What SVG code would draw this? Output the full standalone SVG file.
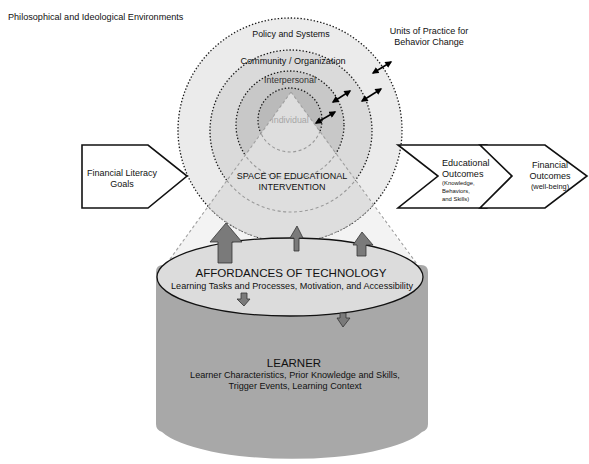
<svg xmlns="http://www.w3.org/2000/svg" width="589" height="464" viewBox="0 0 589 464">
  <style>
    .t { font-family: "Liberation Sans", Arial, sans-serif; fill: #111; }
    .ring-line { fill: none; stroke: #1a1a1a; stroke-width: 1.3; stroke-dasharray: 1.4 1.9; }
    .ring-soft { fill: none; stroke: #9a9a9a; stroke-width: 1.1; stroke-dasharray: 3 2.5; }
    .shape { fill: #fff; stroke: #111; stroke-width: 1.6; stroke-linejoin: miter; }
    .block { fill: #7a7a7a; stroke: #333; stroke-width: 0.8; }
    .dbl { stroke: #000; stroke-width: 1.5; fill: none; marker-start: url(#head); marker-end: url(#head); }
  </style>
  <defs>
    <marker id="head" viewBox="0 0 10 10" refX="8" refY="5" markerWidth="5" markerHeight="4.6" orient="auto-start-reverse" markerUnits="strokeWidth">
      <path d="M0,0 L10,5 L0,10 z" fill="#000"/>
    </marker>
    <clipPath id="outerClip"><circle cx="290" cy="130" r="112"/></clipPath>
    <clipPath id="coneClip"><polygon points="291,92 151,285 431,285"/></clipPath>
  </defs>

  <text class="t" x="8" y="20" font-size="9.1">Philosophical and Ideological Environments</text>

  <!-- cone of educational intervention, outside the rings -->
  <polygon points="291,92 157,277 425,277" fill="#f3f3f3"/>

  <!-- nested levels -->
  <g id="policy-systems">
    <circle cx="290" cy="130" r="112" fill="#ebebeb"/>
  </g>
  <g id="community">
    <circle cx="291" cy="131" r="81" fill="#dadada"/>
  </g>
  <g id="interpersonal">
    <circle cx="290" cy="125" r="54" fill="#c8c8c8"/>
  </g>
  <g id="individual">
    <circle cx="290" cy="120" r="32" fill="#bababa"/>
  </g>
  <g id="ring-outlines">
    <circle class="ring-line" cx="290" cy="130" r="112"/>
    <circle class="ring-line" cx="291" cy="131" r="81"/>
    <circle class="ring-line" cx="290" cy="125" r="54"/>
    <circle class="ring-line" cx="290" cy="120" r="32"/>
  </g>

  <!-- space of educational intervention inside the rings -->
  <g id="intervention-space">
    <polygon points="291,92 157,277 425,277" fill="#dedede" clip-path="url(#outerClip)"/>
    <g clip-path="url(#coneClip)">
      <circle class="ring-soft" cx="290" cy="130" r="112"/>
      <circle class="ring-soft" cx="291" cy="131" r="81"/>
      <circle class="ring-soft" cx="290" cy="125" r="54"/>
      <circle class="ring-soft" cx="290" cy="120" r="32"/>
    </g>
    <line x1="291" y1="92" x2="157" y2="277" stroke="#a0a0a0" stroke-width="1.1" stroke-dasharray="3 2.5"/>
    <line x1="291" y1="92" x2="425" y2="275" stroke="#a0a0a0" stroke-width="1.1" stroke-dasharray="3 2.5"/>
    <text class="t" x="292" y="179" font-size="9" text-anchor="middle">SPACE OF EDUCATIONAL</text>
    <text class="t" x="292" y="190" font-size="9" text-anchor="middle">INTERVENTION</text>
  </g>

  <!-- level labels -->
  <text class="t" x="291" y="37" font-size="8.9" text-anchor="middle">Policy and Systems</text>
  <text class="t" x="293" y="64" font-size="9.1" text-anchor="middle">Community / Organization</text>
  <text class="t" x="290" y="83" font-size="8.9" text-anchor="middle" style="fill:#333">Interpersonal</text>
  <text class="t" x="290" y="123" font-size="8.9" text-anchor="middle" style="fill:#a6a6a6">Individual</text>

  <g id="units-of-practice">
    <text class="t" x="429" y="34" font-size="9" text-anchor="middle">Units of Practice for</text>
    <text class="t" x="429" y="45" font-size="9" text-anchor="middle">Behavior Change</text>
  </g>

  <!-- two-way links between levels -->
  <g id="connectors">
    <line class="dbl" x1="316" y1="123" x2="335" y2="112"/>
    <line class="dbl" x1="333" y1="102" x2="350" y2="91"/>
    <line class="dbl" x1="362" y1="101" x2="381" y2="89"/>
    <line class="dbl" x1="373" y1="73" x2="391" y2="62"/>
  </g>

  <g id="financial-literacy-goals">
    <polygon class="shape" points="82,145 148,145 187,176 148,208 82,208"/>
    <text class="t" x="122" y="176" font-size="9" text-anchor="middle">Financial Literacy</text>
    <text class="t" x="122" y="187" font-size="9" text-anchor="middle">Goals</text>
  </g>

  <g id="educational-outcomes">
    <polygon points="398,145 487,145 512,176 487,208 398,208 438,176" fill="#fff"/>
  </g>
  <g id="financial-outcomes">
    <polygon points="480,145 545,145 587,176 545,208 480,208 512,176" fill="#fff"/>
  </g>
  <polygon class="shape" points="398,145 487,145 512,176 487,208 398,208 438,176" fill="none"/>
  <polygon class="shape" points="480,145 545,145 587,176 545,208 480,208 512,176" fill="none"/>
  <text class="t" x="442" y="166" font-size="9.1">Educational</text>
  <text class="t" x="442" y="177" font-size="9.1">Outcomes</text>
  <text class="t" x="442" y="185" font-size="5.9">(Knowledge,</text>
  <text class="t" x="442" y="193" font-size="5.9">Behaviors,</text>
  <text class="t" x="442" y="201" font-size="5.9">and Skills)</text>
  <text class="t" x="550" y="168" font-size="9" text-anchor="middle">Financial</text>
  <text class="t" x="550" y="179" font-size="9" text-anchor="middle">Outcomes</text>
  <text class="t" x="550" y="189" font-size="7.4" text-anchor="middle">(well-being)</text>

  <!-- learner cylinder -->
  <g id="learner">
    <path d="M156,272 Q156,265 163,265 L421,265 Q428,265 428,272 L428,424 Q428,430 422,432 A136,38 0 0 1 162,432 Q156,430 156,424 Z" fill="#a8a8a8"/>
    <text class="t" x="294" y="367" font-size="11.5" text-anchor="middle">LEARNER</text>
    <text class="t" x="295" y="378" font-size="9.1" text-anchor="middle">Learner Characteristics, Prior Knowledge and Skills,</text>
    <text class="t" x="295" y="389" font-size="9.1" text-anchor="middle">Trigger Events, Learning Context</text>
  </g>

  <g id="affordances">
    <ellipse cx="290" cy="277" rx="133" ry="39" fill="#dcdcdc" stroke="#111" stroke-width="1.3"/>
    <text class="t" x="291" y="277" font-size="11.6" text-anchor="middle">AFFORDANCES OF TECHNOLOGY</text>
    <text class="t" x="292" y="289" font-size="9.1" text-anchor="middle">Learning Tasks and Processes, Motivation, and Accessibility</text>
  </g>

  <!-- block arrows between the learner and the intervention space -->
  <g id="block-arrows">
    <polygon class="block" points="226,223 242,242 232,242 232,263 218,263 218,242 210,242"/>
    <polygon class="block" points="297,226 303,238 299,238 299,251 294,251 294,238 290,238"/>
    <polygon class="block" points="362,232 373,245 366,245 366,256 357,256 357,245 353,245"/>
    <polygon class="block" points="241,293 247,293 247,299 250,299 244,306 237,299 241,299"/>
    <polygon class="block" points="340,313 346,313 346,318 350,318 343,327 337,318 340,318"/>
  </g>
</svg>
